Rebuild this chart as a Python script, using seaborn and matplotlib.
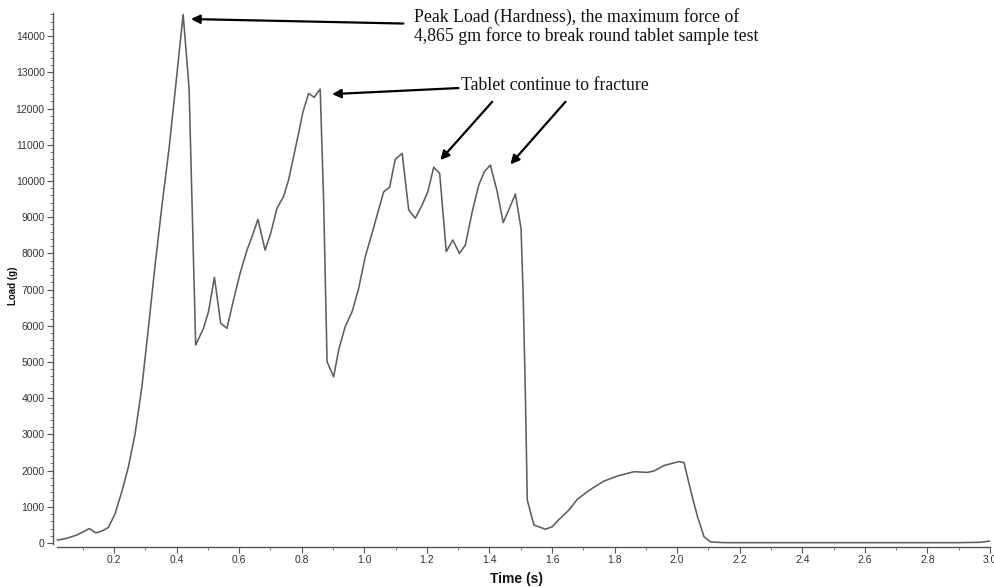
import matplotlib
matplotlib.use("Agg")
import matplotlib.pyplot as plt
from matplotlib.ticker import MultipleLocator, FormatStrFormatter
import seaborn as sns
import pandas as pd

# ---- data ----
time_s = [0.019, 0.049, 0.081, 0.102, 0.121, 0.142, 0.161, 0.182, 0.203, 0.225,
          0.246, 0.267, 0.289, 0.310, 0.331, 0.353, 0.376, 0.398, 0.421, 0.440,
          0.461, 0.486, 0.502, 0.521, 0.541, 0.561, 0.582, 0.603, 0.625, 0.641,
          0.660, 0.683, 0.701, 0.721, 0.742, 0.758, 0.774, 0.790, 0.804, 0.822,
          0.840, 0.859, 0.870, 0.881, 0.902, 0.918, 0.939, 0.961, 0.982, 1.003,
          1.025, 1.041, 1.062, 1.081, 1.099, 1.121, 1.142, 1.163, 1.185, 1.203,
          1.222, 1.241, 1.262, 1.283, 1.304, 1.323, 1.345, 1.366, 1.384, 1.403,
          1.425, 1.444, 1.464, 1.483, 1.501, 1.508, 1.515, 1.521, 1.542, 1.579,
          1.601, 1.621, 1.654, 1.681, 1.723, 1.766, 1.809, 1.862, 1.905, 1.926,
          1.958, 2.006, 2.022, 2.043, 2.065, 2.086, 2.107, 2.15, 2.20, 2.30,
          2.40, 2.50, 2.60, 2.70, 2.80, 2.90, 2.97, 3.00]
load_g = [80, 130, 220, 310, 400, 280, 330, 430, 800, 1420,
          2100, 3000, 4300, 5950, 7650, 9300, 10900, 12700, 14600, 12560,
          5470, 5930, 6390, 7340, 6070, 5930, 6710, 7450, 8090, 8460,
          8940, 8090, 8560, 9250, 9570, 10030, 10670, 11320, 11910, 12420,
          12310, 12540, 9470, 5010, 4590, 5330, 5980, 6390, 7030, 7910,
          8560, 9060, 9700, 9830, 10600, 10760, 9200, 8970, 9340, 9700,
          10380, 10210, 8050, 8370, 8000, 8230, 9150, 9890, 10260, 10440,
          9700, 8850, 9250, 9640, 8690, 6800, 4040, 1190, 500, 380,
          450, 640, 910, 1210, 1480, 1710, 1850, 1970, 1950, 1990,
          2140, 2250, 2220, 1460, 730, 170, 30, 10, 10, 10,
          10, 10, 10, 10, 10, 10, 20, 55]

y_ticks = [0, 1000, 2000, 3000, 4000, 5000, 6000, 7000, 8000, 9000,
           10000, 11000, 12000, 13000, 14000]
x_ticks = [0.2, 0.4, 0.6, 0.8, 1.0, 1.2, 1.4, 1.6, 1.8, 2.0, 2.2, 2.4, 2.6, 2.8, 3.0]

peak_text = "Peak Load (Hardness), the maximum force of\n4,865 gm force to break round tablet sample test"
fracture_text = "Tablet continue to fracture"

df = pd.DataFrame({"Time (s)": time_s, "Load (g)": load_g})

# ---- figure ----
sns.set_style("white")
plt.rcParams["font.family"] = ["Liberation Sans", "DejaVu Sans"]

fig = plt.figure(figsize=(9.94, 5.87), dpi=100)
ax = fig.add_axes([53 / 994, 1 - 547 / 587, (990 - 53) / 994, (547 - 13) / 587])

sns.lineplot(data=df, x="Time (s)", y="Load (g)", ax=ax, color="#5e5e5e",
             linewidth=1.15, sort=False, estimator=None)

ax.set_xlim(0.005, 3.0)
ax.set_ylim(-110, 14640)
ax.set_yticks(y_ticks)
ax.set_xticks(x_ticks)
ax.xaxis.set_major_formatter(FormatStrFormatter("%.1f"))
ax.yaxis.set_minor_locator(MultipleLocator(200))
ax.xaxis.set_minor_locator(MultipleLocator(0.1))

for side in ["top", "right"]:
    ax.spines[side].set_visible(False)
for side in ["left", "bottom"]:
    ax.spines[side].set_color("#555555")
    ax.spines[side].set_linewidth(1.0)
ax.spines["left"].set_bounds(-30, 14640)
ax.spines["bottom"].set_bounds(0.018, 3.0)

ax.tick_params(axis="both", which="major", direction="out", length=4, width=0.8,
               color="#555555", labelsize=7.5, labelcolor="#333333", pad=2)
ax.tick_params(axis="both", which="minor", direction="out", length=2.5, width=0.7,
               color="#777777")
ax.tick_params(axis="x", which="both", bottom=True)
ax.tick_params(axis="y", which="both", left=True)

ax.set_xlabel("Time (s)", fontsize=10, fontweight="bold", color="#111111")
ax.set_ylabel("Load (g)", fontsize=7, fontweight="bold", color="#111111")
ax.xaxis.set_label_coords(0.495, -0.047)
ax.yaxis.set_label_coords(-0.037, 0.49)

# ---- annotations ----
arrow_kw = dict(arrowstyle="-|>", color="black", lw=1.6, mutation_scale=13,
                shrinkA=0, shrinkB=0)
# peak arrow
ax.annotate("", xy=(0.446, 14473), xytext=(1.125, 14349), arrowprops=arrow_kw)
# tablet continue arrows
ax.annotate("", xy=(0.897, 12400), xytext=(1.301, 12567), arrowprops=arrow_kw)
ax.annotate("", xy=(1.243, 10578), xytext=(1.409, 12189), arrowprops=arrow_kw)
ax.annotate("", xy=(1.467, 10459), xytext=(1.643, 12189), arrowprops=arrow_kw)

serif = ["Liberation Serif", "DejaVu Serif"]
ax.text(1.160, 13874, peak_text, fontsize=12.8, family=serif,
        ha="left", va="baseline", linespacing=1.05, color="#111111", clip_on=False)
ax.text(1.310, 12512, fracture_text, fontsize=12.8, family=serif,
        ha="left", va="baseline", color="#111111")

fig.savefig("out.png", dpi=100)
